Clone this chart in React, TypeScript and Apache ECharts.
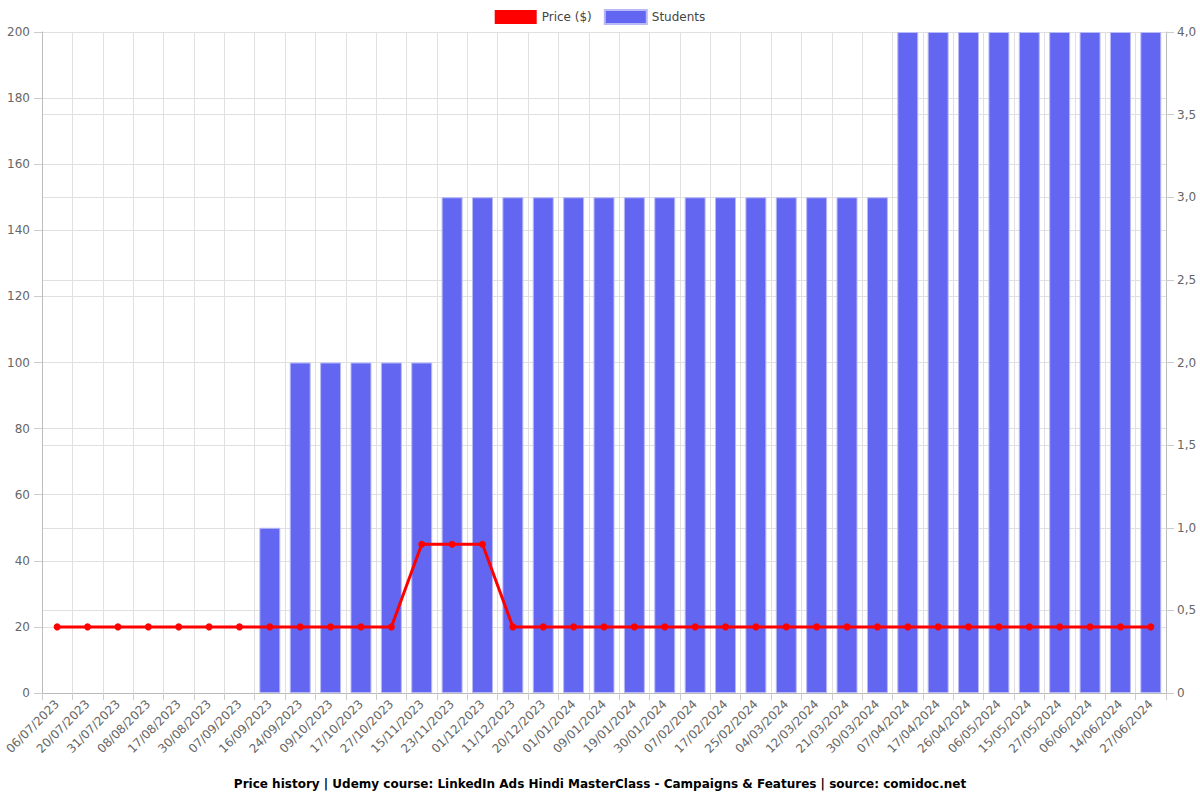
import React, { useEffect, useRef } from "react";
import * as echarts from "echarts";

const categories = [
  "06/07/2023", "20/07/2023", "31/07/2023", "08/08/2023", "17/08/2023", "30/08/2023",
  "07/09/2023", "16/09/2023", "24/09/2023", "09/10/2023", "17/10/2023", "27/10/2023",
  "15/11/2023", "23/11/2023", "01/12/2023", "11/12/2023", "20/12/2023", "01/01/2024",
  "09/01/2024", "19/01/2024", "30/01/2024", "07/02/2024", "17/02/2024", "25/02/2024",
  "04/03/2024", "12/03/2024", "21/03/2024", "30/03/2024", "07/04/2024", "17/04/2024",
  "26/04/2024", "06/05/2024", "15/05/2024", "27/05/2024", "06/06/2024", "14/06/2024",
  "27/06/2024",
];

const price = [
  20, 20, 20, 20, 20, 20, 20, 20, 20, 20, 20, 20,
  45, 45, 45, 20, 20, 20, 20, 20, 20, 20, 20, 20,
  20, 20, 20, 20, 20, 20, 20, 20, 20, 20, 20, 20, 20,
];

const students = [
  0, 0, 0, 0, 0, 0, 0, 1, 2, 2, 2, 2,
  2, 3, 3, 3, 3, 3, 3, 3, 3, 3, 3, 3,
  3, 3, 3, 3, 4, 4, 4, 4, 4, 4, 4, 4, 4,
];

const titleText =
  "Price history | Udemy course: LinkedIn Ads Hindi MasterClass - Campaigns & Features | source: comidoc.net";

export default function App() {
  const ref = useRef<HTMLDivElement>(null);
  useEffect(() => {
    if (!ref.current) return;
    const chart = echarts.init(ref.current, undefined, { renderer: "svg" });
    const font = "DejaVu Sans";
    chart.setOption({
      animation: false,
      textStyle: { fontFamily: font },
      title: {
        text: titleText,
        left: "center",
        top: 773,
        textStyle: { fontSize: 12, fontWeight: "bold", color: "#000", fontFamily: font },
      },
      legend: {
        top: 4,
        left: "center",
        itemWidth: 42,
        itemHeight: 14,
        itemGap: 12,
        textStyle: { fontSize: 12, color: "#444", fontFamily: font },
        data: [
          { name: "Price ($)", icon: "rect", itemStyle: { color: "#ff0000" } },
          { name: "Students", icon: "rect", itemStyle: { color: "#6366f1" } },
        ],
      },
      grid: { left: 42, right: 34, top: 32, bottom: 107, containLabel: false },
      xAxis: {
        type: "category",
        data: categories,
        boundaryGap: true,
        axisLine: { lineStyle: { color: "#bbb" } },
        axisTick: { show: true, alignWithLabel: false, length: 7, lineStyle: { color: "#ccc" } },
        splitLine: { show: true, lineStyle: { color: "#e0e0e0" } },
        axisLabel: { rotate: 45, fontSize: 12, color: "#666", interval: 0, margin: 9, fontFamily: font },
      },
      yAxis: [
        {
          type: "value",
          min: 0,
          max: 200,
          interval: 20,
          axisLine: { show: true, lineStyle: { color: "#bbb" } },
          axisTick: { show: true, length: 8, lineStyle: { color: "#ccc" } },
          splitLine: { show: true, lineStyle: { color: "#e0e0e0" } },
          axisLabel: { fontSize: 12, color: "#666", fontFamily: font, margin: 12 },
        },
        {
          type: "value",
          min: 0,
          max: 4,
          interval: 0.5,
          position: "right",
          axisLine: { show: true, lineStyle: { color: "#bbb" } },
          axisTick: { show: true, length: 8, lineStyle: { color: "#ccc" } },
          splitLine: { show: true, lineStyle: { color: "#e0e0e0" } },
          axisLabel: {
            fontSize: 12,
            color: "#666",
            fontFamily: font,
            margin: 11,
            formatter: (v: number) => (v === 0 ? "0" : v.toFixed(1).replace(".", ",")),
          },
        },
      ],
      series: [
        {
          name: "Price ($)",
          type: "line",
          yAxisIndex: 0,
          data: price,
          z: 3,
          symbol: "circle",
          symbolSize: 7,
          lineStyle: { color: "#ff0000", width: 3 },
          itemStyle: { color: "#ff0000" },
        },
        {
          name: "Students",
          type: "bar",
          yAxisIndex: 1,
          data: students.map((v) => (v === 0 ? null : v)),
          z: 2,
          barWidth: "69%",
          itemStyle: { color: "#6366f1", borderColor: "#b8baf8", borderWidth: 1 },
        },
      ],
    });
    return () => chart.dispose();
  }, []);
  return (
    <div
      ref={ref}
      style={{ position: "absolute", left: 0, top: 0, width: 1200, height: 800 }}
    />
  );
}
